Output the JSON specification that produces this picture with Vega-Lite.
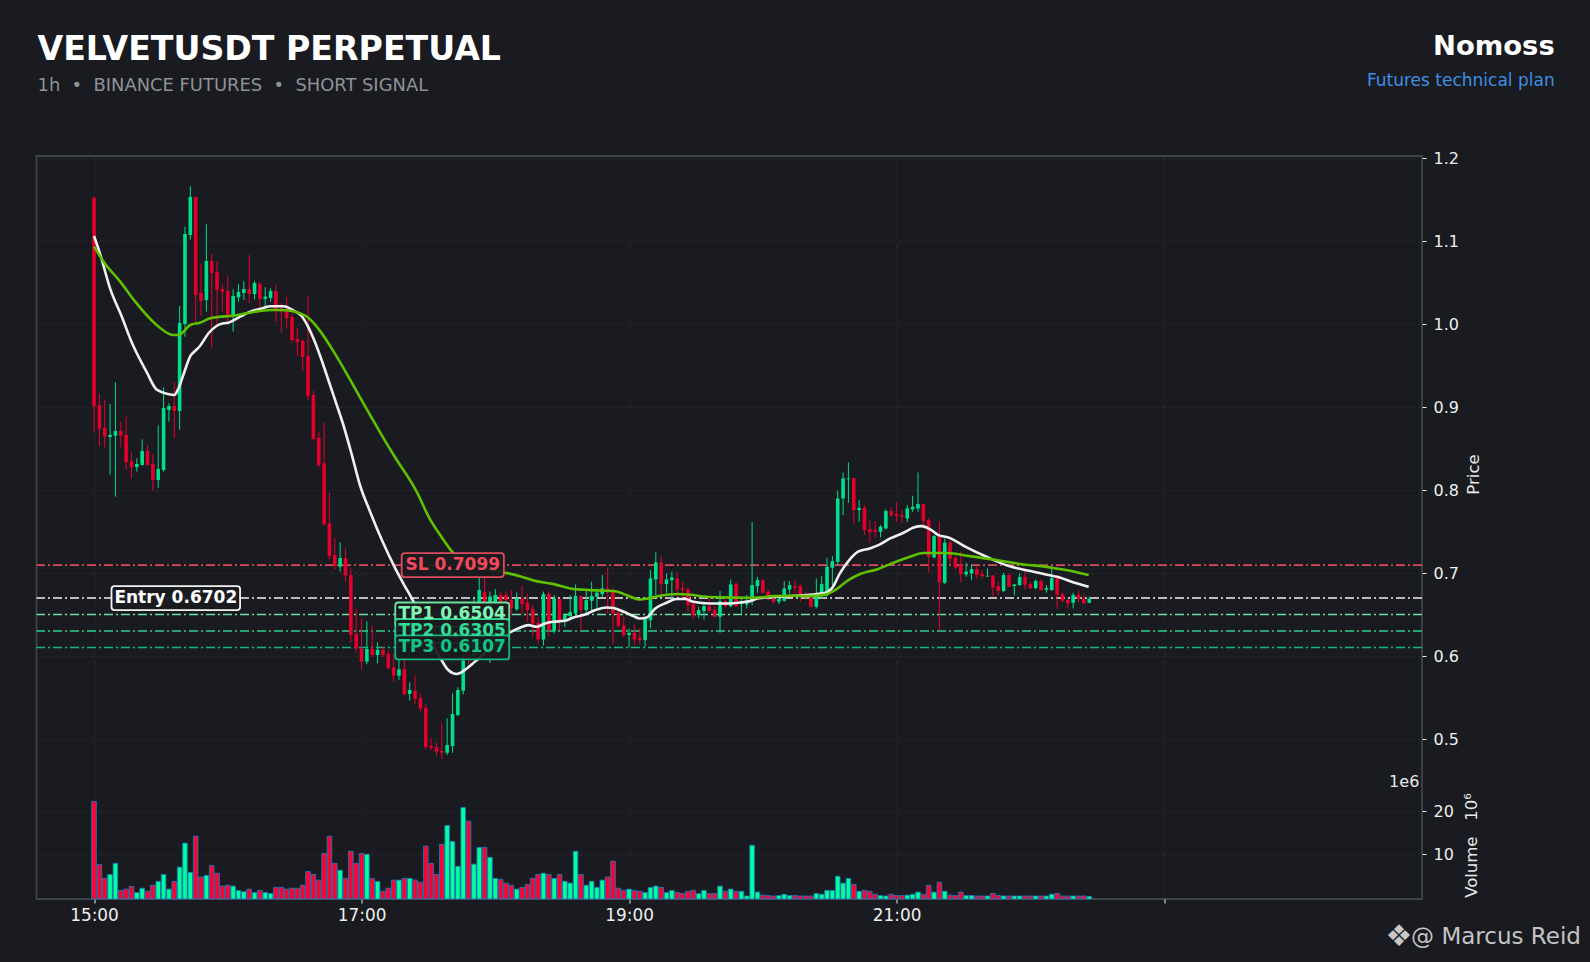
{
  "$schema": "https://vega.github.io/schema/vega-lite/v6.json",
  "width": 1385.5,
  "height": 743,
  "autosize": "none",
  "padding": {"left": 36.5, "top": 156, "right": 168, "bottom": 63},
  "background": "#191b20",
  "config": {
    "view": {"stroke": "#3f434a", "strokeWidth": 1.8},
    "font": "DejaVu Sans"
  },
  "datasets": {
    "candles": [
      {"i":0,"o":1.1522,"h":1.1546,"l":0.8695,"c":0.9016,"v":22.3},
      {"i":1,"o":0.9028,"h":0.9169,"l":0.8534,"c":0.8743,"v":7.6},
      {"i":2,"o":0.8751,"h":0.9096,"l":0.8518,"c":0.8647,"v":4.4},
      {"i":3,"o":0.8643,"h":0.904,"l":0.8189,"c":0.8667,"v":5.3},
      {"i":4,"o":0.8659,"h":0.9301,"l":0.7924,"c":0.8715,"v":7.9},
      {"i":5,"o":0.8715,"h":0.8823,"l":0.8518,"c":0.8659,"v":1.6},
      {"i":6,"o":0.8667,"h":0.8892,"l":0.8249,"c":0.8341,"v":1.9},
      {"i":7,"o":0.8349,"h":0.8458,"l":0.8141,"c":0.8281,"v":2.5},
      {"i":8,"o":0.8281,"h":0.8386,"l":0.8225,"c":0.8317,"v":1.1},
      {"i":9,"o":0.8305,"h":0.8614,"l":0.8297,"c":0.8474,"v":2.1},
      {"i":10,"o":0.8474,"h":0.8546,"l":0.8297,"c":0.8305,"v":1.4},
      {"i":11,"o":0.8317,"h":0.8438,"l":0.7996,"c":0.8124,"v":2.8},
      {"i":12,"o":0.8124,"h":0.8783,"l":0.8032,"c":0.8257,"v":3.7},
      {"i":13,"o":0.8245,"h":0.9241,"l":0.8225,"c":0.8992,"v":5.3},
      {"i":14,"o":0.8968,"h":0.9048,"l":0.8827,"c":0.9016,"v":1.9},
      {"i":15,"o":0.9016,"h":0.9301,"l":0.8627,"c":0.8956,"v":3.7},
      {"i":16,"o":0.8956,"h":1.0221,"l":0.8731,"c":1.0016,"v":7.0},
      {"i":17,"o":1.0004,"h":1.1173,"l":0.9851,"c":1.1088,"v":12.6},
      {"i":18,"o":1.1076,"h":1.1663,"l":1.102,"c":1.1534,"v":5.8},
      {"i":19,"o":1.1534,"h":1.1534,"l":1.002,"c":1.0353,"v":14.2},
      {"i":20,"o":1.0378,"h":1.0735,"l":1.0104,"c":1.0281,"v":4.7},
      {"i":21,"o":1.0293,"h":1.1205,"l":1.0153,"c":1.0763,"v":5.1},
      {"i":22,"o":1.0763,"h":1.0847,"l":0.9707,"c":1.0618,"v":7.4},
      {"i":23,"o":1.0631,"h":1.0759,"l":0.9972,"c":1.0414,"v":5.6},
      {"i":24,"o":1.0426,"h":1.0478,"l":1.0153,"c":1.039,"v":2.6},
      {"i":25,"o":1.0402,"h":1.059,"l":1.0032,"c":1.0092,"v":2.8},
      {"i":26,"o":1.0092,"h":1.0422,"l":0.9912,"c":1.0341,"v":2.6},
      {"i":27,"o":1.0325,"h":1.0486,"l":1.0273,"c":1.039,"v":1.6},
      {"i":28,"o":1.0378,"h":1.0518,"l":1.0293,"c":1.0426,"v":1.3},
      {"i":29,"o":1.0426,"h":1.0835,"l":1.0253,"c":1.0365,"v":1.9},
      {"i":30,"o":1.0365,"h":1.0522,"l":1.0301,"c":1.0498,"v":1.1},
      {"i":31,"o":1.0486,"h":1.051,"l":1.0173,"c":1.0305,"v":1.6},
      {"i":32,"o":1.0305,"h":1.0446,"l":1.0213,"c":1.0333,"v":1.1},
      {"i":33,"o":1.0317,"h":1.0434,"l":1.0273,"c":1.0402,"v":0.9},
      {"i":34,"o":1.0402,"h":1.0482,"l":1.0032,"c":1.0185,"v":2.3},
      {"i":35,"o":1.0193,"h":1.0253,"l":0.99,"c":1.0173,"v":2.3},
      {"i":36,"o":1.0181,"h":1.0329,"l":0.9952,"c":1.0076,"v":1.9},
      {"i":37,"o":1.0088,"h":1.0133,"l":0.9779,"c":0.9811,"v":2.1},
      {"i":38,"o":0.9823,"h":0.9956,"l":0.9618,"c":0.9787,"v":2.1},
      {"i":39,"o":0.9799,"h":0.9819,"l":0.9438,"c":0.9606,"v":2.8},
      {"i":40,"o":0.9618,"h":1.0349,"l":0.9088,"c":0.9137,"v":6.0},
      {"i":41,"o":0.9149,"h":0.9197,"l":0.8598,"c":0.8618,"v":5.3},
      {"i":42,"o":0.8631,"h":0.8711,"l":0.8277,"c":0.8305,"v":4.0},
      {"i":43,"o":0.8325,"h":0.8815,"l":0.757,"c":0.7594,"v":10.2},
      {"i":44,"o":0.7602,"h":0.7972,"l":0.7169,"c":0.7209,"v":14.2},
      {"i":45,"o":0.7221,"h":0.7422,"l":0.7048,"c":0.7092,"v":7.9},
      {"i":46,"o":0.708,"h":0.7373,"l":0.702,"c":0.7185,"v":6.3},
      {"i":47,"o":0.7185,"h":0.7301,"l":0.69,"c":0.6972,"v":4.4},
      {"i":48,"o":0.698,"h":0.706,"l":0.6165,"c":0.6257,"v":10.7},
      {"i":49,"o":0.6269,"h":0.6578,"l":0.6044,"c":0.6096,"v":7.9},
      {"i":50,"o":0.6092,"h":0.6458,"l":0.5843,"c":0.5936,"v":10.2},
      {"i":51,"o":0.5936,"h":0.6422,"l":0.5904,"c":0.6088,"v":10.0},
      {"i":52,"o":0.6088,"h":0.6373,"l":0.5996,"c":0.6016,"v":4.4},
      {"i":53,"o":0.6016,"h":0.6169,"l":0.5916,"c":0.6076,"v":3.7},
      {"i":54,"o":0.6076,"h":0.6116,"l":0.5988,"c":0.6016,"v":1.4},
      {"i":55,"o":0.6028,"h":0.6068,"l":0.5843,"c":0.5859,"v":2.1},
      {"i":56,"o":0.5867,"h":0.6036,"l":0.5695,"c":0.5767,"v":4.0},
      {"i":57,"o":0.5767,"h":0.5964,"l":0.5715,"c":0.5843,"v":4.0},
      {"i":58,"o":0.5847,"h":0.5956,"l":0.553,"c":0.5546,"v":4.4},
      {"i":59,"o":0.5546,"h":0.5687,"l":0.5466,"c":0.5594,"v":4.4},
      {"i":60,"o":0.5582,"h":0.5771,"l":0.5426,"c":0.549,"v":4.0},
      {"i":61,"o":0.5498,"h":0.5554,"l":0.5321,"c":0.537,"v":3.5},
      {"i":62,"o":0.5378,"h":0.5426,"l":0.488,"c":0.4908,"v":11.9},
      {"i":63,"o":0.492,"h":0.5012,"l":0.4872,"c":0.4896,"v":7.9},
      {"i":64,"o":0.4908,"h":0.4964,"l":0.4799,"c":0.4851,"v":5.3},
      {"i":65,"o":0.4859,"h":0.5193,"l":0.4759,"c":0.4839,"v":12.3},
      {"i":66,"o":0.4839,"h":0.5253,"l":0.4811,"c":0.4932,"v":16.7},
      {"i":67,"o":0.492,"h":0.5554,"l":0.4839,"c":0.5305,"v":13.0},
      {"i":68,"o":0.5293,"h":0.5627,"l":0.5281,"c":0.5594,"v":7.2},
      {"i":69,"o":0.5586,"h":0.6,"l":0.5538,"c":0.595,"v":20.9},
      {"i":70,"o":0.62,"h":0.64,"l":0.59,"c":0.6,"v":17.7},
      {"i":71,"o":0.6,"h":0.67,"l":0.595,"c":0.655,"v":7.7},
      {"i":72,"o":0.6659,"h":0.696,"l":0.655,"c":0.68,"v":11.6},
      {"i":73,"o":0.6779,"h":0.696,"l":0.655,"c":0.6647,"v":11.6},
      {"i":74,"o":0.655,"h":0.678,"l":0.592,"c":0.672,"v":9.3},
      {"i":75,"o":0.6639,"h":0.681,"l":0.66,"c":0.6739,"v":4.4},
      {"i":76,"o":0.6739,"h":0.678,"l":0.64,"c":0.655,"v":4.2},
      {"i":77,"o":0.6739,"h":0.678,"l":0.655,"c":0.6679,"v":3.3},
      {"i":78,"o":0.6679,"h":0.68,"l":0.65,"c":0.6578,"v":2.8},
      {"i":79,"o":0.6566,"h":0.677,"l":0.655,"c":0.6699,"v":1.9},
      {"i":80,"o":0.6691,"h":0.6855,"l":0.65,"c":0.663,"v":2.3},
      {"i":81,"o":0.6647,"h":0.6755,"l":0.6416,"c":0.6558,"v":3.0},
      {"i":82,"o":0.6569,"h":0.6617,"l":0.6236,"c":0.6396,"v":4.4},
      {"i":83,"o":0.6404,"h":0.6468,"l":0.6155,"c":0.6203,"v":5.3},
      {"i":84,"o":0.6203,"h":0.678,"l":0.6127,"c":0.675,"v":5.6},
      {"i":85,"o":0.675,"h":0.678,"l":0.6236,"c":0.6316,"v":5.3},
      {"i":86,"o":0.6304,"h":0.6738,"l":0.6276,"c":0.6697,"v":4.4},
      {"i":87,"o":0.669,"h":0.6697,"l":0.6316,"c":0.6416,"v":5.3},
      {"i":88,"o":0.6416,"h":0.6517,"l":0.6356,"c":0.6497,"v":3.7},
      {"i":89,"o":0.6485,"h":0.6738,"l":0.6436,"c":0.6533,"v":3.3},
      {"i":90,"o":0.6517,"h":0.6866,"l":0.6485,"c":0.6726,"v":10.7},
      {"i":91,"o":0.6726,"h":0.6738,"l":0.6308,"c":0.6557,"v":5.3},
      {"i":92,"o":0.6557,"h":0.6798,"l":0.6497,"c":0.6677,"v":2.8},
      {"i":93,"o":0.6669,"h":0.6898,"l":0.6557,"c":0.6726,"v":3.7},
      {"i":94,"o":0.6718,"h":0.6818,"l":0.6565,"c":0.6766,"v":2.3},
      {"i":95,"o":0.675,"h":0.6979,"l":0.6718,"c":0.6818,"v":4.0},
      {"i":96,"o":0.6818,"h":0.7067,"l":0.6517,"c":0.679,"v":4.7},
      {"i":97,"o":0.679,"h":0.6818,"l":0.6147,"c":0.6517,"v":8.4},
      {"i":98,"o":0.6525,"h":0.6557,"l":0.6356,"c":0.6364,"v":2.1},
      {"i":99,"o":0.6372,"h":0.6476,"l":0.6236,"c":0.6256,"v":1.6},
      {"i":100,"o":0.6256,"h":0.6336,"l":0.6107,"c":0.6284,"v":1.9},
      {"i":101,"o":0.6284,"h":0.6384,"l":0.6135,"c":0.6203,"v":1.6},
      {"i":102,"o":0.6223,"h":0.6336,"l":0.6147,"c":0.6195,"v":1.4},
      {"i":103,"o":0.6195,"h":0.6468,"l":0.6115,"c":0.6456,"v":1.1},
      {"i":104,"o":0.6436,"h":0.7039,"l":0.6336,"c":0.6938,"v":2.3},
      {"i":105,"o":0.6926,"h":0.7252,"l":0.6738,"c":0.7131,"v":2.6},
      {"i":106,"o":0.7131,"h":0.7211,"l":0.6738,"c":0.687,"v":2.3},
      {"i":107,"o":0.687,"h":0.6999,"l":0.6766,"c":0.6926,"v":1.1},
      {"i":108,"o":0.6918,"h":0.7019,"l":0.6697,"c":0.695,"v":1.6},
      {"i":109,"o":0.6938,"h":0.7007,"l":0.6717,"c":0.6806,"v":1.1},
      {"i":110,"o":0.6818,"h":0.6898,"l":0.6677,"c":0.6798,"v":0.9},
      {"i":111,"o":0.6806,"h":0.683,"l":0.6537,"c":0.6617,"v":1.4},
      {"i":112,"o":0.6629,"h":0.6645,"l":0.6457,"c":0.6497,"v":1.6},
      {"i":113,"o":0.6497,"h":0.6597,"l":0.6457,"c":0.6557,"v":0.85},
      {"i":114,"o":0.6545,"h":0.6657,"l":0.6444,"c":0.6605,"v":1.6},
      {"i":115,"o":0.6605,"h":0.6697,"l":0.6537,"c":0.6545,"v":0.85},
      {"i":116,"o":0.6557,"h":0.6605,"l":0.6469,"c":0.6477,"v":0.85},
      {"i":117,"o":0.6477,"h":0.6786,"l":0.6284,"c":0.6665,"v":2.6},
      {"i":118,"o":0.6665,"h":0.6685,"l":0.659,"c":0.6605,"v":1.4},
      {"i":119,"o":0.6605,"h":0.6926,"l":0.659,"c":0.6866,"v":1.9},
      {"i":120,"o":0.687,"h":0.6898,"l":0.659,"c":0.6605,"v":1.4},
      {"i":121,"o":0.6629,"h":0.6697,"l":0.6509,"c":0.6665,"v":1.4},
      {"i":122,"o":0.6625,"h":0.6738,"l":0.6577,"c":0.6645,"v":0.3},
      {"i":123,"o":0.6669,"h":0.7618,"l":0.6617,"c":0.6858,"v":12.1},
      {"i":124,"o":0.6846,"h":0.6958,"l":0.6766,"c":0.6918,"v":1.2},
      {"i":125,"o":0.6918,"h":0.6926,"l":0.6758,"c":0.6766,"v":0.5},
      {"i":126,"o":0.6778,"h":0.6806,"l":0.6677,"c":0.6726,"v":0.4},
      {"i":127,"o":0.6702,"h":0.6726,"l":0.6637,"c":0.6658,"v":0.3},
      {"i":128,"o":0.6658,"h":0.6718,"l":0.6629,"c":0.669,"v":0.4},
      {"i":129,"o":0.667,"h":0.6906,"l":0.6657,"c":0.6818,"v":0.7},
      {"i":130,"o":0.6806,"h":0.6906,"l":0.6758,"c":0.6858,"v":0.4},
      {"i":131,"o":0.6846,"h":0.692,"l":0.6758,"c":0.6826,"v":0.4},
      {"i":132,"o":0.6846,"h":0.6878,"l":0.6657,"c":0.675,"v":0.3},
      {"i":133,"o":0.675,"h":0.6778,"l":0.6697,"c":0.6734,"v":0.3},
      {"i":134,"o":0.6705,"h":0.6738,"l":0.6589,"c":0.6597,"v":0.3},
      {"i":135,"o":0.6597,"h":0.6938,"l":0.6577,"c":0.675,"v":0.9},
      {"i":136,"o":0.6738,"h":0.6966,"l":0.669,"c":0.687,"v":0.7},
      {"i":137,"o":0.6738,"h":0.7187,"l":0.6717,"c":0.7079,"v":1.6},
      {"i":138,"o":0.7067,"h":0.7207,"l":0.6858,"c":0.7147,"v":1.6},
      {"i":139,"o":0.7139,"h":0.7995,"l":0.7099,"c":0.7902,"v":4.9},
      {"i":140,"o":0.7902,"h":0.8215,"l":0.7701,"c":0.8143,"v":3.3},
      {"i":141,"o":0.8135,"h":0.8336,"l":0.785,"c":0.8143,"v":4.4},
      {"i":142,"o":0.8147,"h":0.8147,"l":0.7593,"c":0.7762,"v":3.0},
      {"i":143,"o":0.7762,"h":0.7882,"l":0.7621,"c":0.7786,"v":1.4},
      {"i":144,"o":0.7786,"h":0.7822,"l":0.746,"c":0.7521,"v":1.6},
      {"i":145,"o":0.7533,"h":0.7641,"l":0.7368,"c":0.7497,"v":1.4},
      {"i":146,"o":0.7521,"h":0.7629,"l":0.7432,"c":0.7497,"v":0.7},
      {"i":147,"o":0.7501,"h":0.7581,"l":0.7432,"c":0.7561,"v":0.4},
      {"i":148,"o":0.7541,"h":0.777,"l":0.7529,"c":0.775,"v":0.3},
      {"i":149,"o":0.775,"h":0.7794,"l":0.7681,"c":0.7701,"v":0.7},
      {"i":150,"o":0.7713,"h":0.7854,"l":0.7621,"c":0.7689,"v":0.4},
      {"i":151,"o":0.7701,"h":0.7762,"l":0.7609,"c":0.7681,"v":0.4},
      {"i":152,"o":0.7661,"h":0.7822,"l":0.7621,"c":0.7782,"v":0.5},
      {"i":153,"o":0.777,"h":0.7934,"l":0.7742,"c":0.7802,"v":0.7},
      {"i":154,"o":0.7782,"h":0.8215,"l":0.7742,"c":0.7834,"v":1.2},
      {"i":155,"o":0.7834,"h":0.7834,"l":0.7581,"c":0.7629,"v":0.7},
      {"i":156,"o":0.7641,"h":0.7661,"l":0.7007,"c":0.7199,"v":2.8},
      {"i":157,"o":0.7191,"h":0.746,"l":0.7179,"c":0.7448,"v":1.2},
      {"i":158,"o":0.7448,"h":0.7629,"l":0.6305,"c":0.6894,"v":3.5},
      {"i":159,"o":0.6886,"h":0.742,"l":0.687,"c":0.7368,"v":1.4},
      {"i":160,"o":0.7368,"h":0.7392,"l":0.7099,"c":0.7171,"v":0.5},
      {"i":161,"o":0.7187,"h":0.7207,"l":0.7047,"c":0.7071,"v":0.4},
      {"i":162,"o":0.7099,"h":0.726,"l":0.6894,"c":0.6991,"v":1.2},
      {"i":163,"o":0.6987,"h":0.7127,"l":0.6958,"c":0.7019,"v":0.4},
      {"i":164,"o":0.6999,"h":0.7111,"l":0.6918,"c":0.7051,"v":0.4},
      {"i":165,"o":0.7051,"h":0.7087,"l":0.6938,"c":0.6979,"v":0.3},
      {"i":166,"o":0.6991,"h":0.7039,"l":0.6938,"c":0.6966,"v":0.3},
      {"i":167,"o":0.6962,"h":0.7059,"l":0.6958,"c":0.697,"v":0.3},
      {"i":168,"o":0.6974,"h":0.6974,"l":0.6717,"c":0.683,"v":0.9},
      {"i":169,"o":0.6846,"h":0.6898,"l":0.6729,"c":0.679,"v":0.4},
      {"i":170,"o":0.6786,"h":0.7007,"l":0.6774,"c":0.6979,"v":0.3},
      {"i":171,"o":0.6979,"h":0.6999,"l":0.683,"c":0.6838,"v":0.3},
      {"i":172,"o":0.6846,"h":0.6866,"l":0.6733,"c":0.6866,"v":0.3},
      {"i":173,"o":0.6858,"h":0.6999,"l":0.6846,"c":0.6954,"v":0.3},
      {"i":174,"o":0.6954,"h":0.7039,"l":0.6806,"c":0.6862,"v":0.3},
      {"i":175,"o":0.687,"h":0.6898,"l":0.6806,"c":0.6822,"v":0.3},
      {"i":176,"o":0.6822,"h":0.6926,"l":0.6806,"c":0.6906,"v":0.3},
      {"i":177,"o":0.6906,"h":0.6926,"l":0.679,"c":0.6798,"v":0.3},
      {"i":178,"o":0.6802,"h":0.6858,"l":0.6766,"c":0.6822,"v":0.3},
      {"i":179,"o":0.6798,"h":0.7059,"l":0.679,"c":0.6942,"v":0.7},
      {"i":180,"o":0.6958,"h":0.6966,"l":0.657,"c":0.6746,"v":0.9},
      {"i":181,"o":0.675,"h":0.6766,"l":0.6653,"c":0.667,"v":0.3},
      {"i":182,"o":0.6678,"h":0.6694,"l":0.6577,"c":0.6637,"v":0.3},
      {"i":183,"o":0.6645,"h":0.6766,"l":0.6577,"c":0.6738,"v":0.3},
      {"i":184,"o":0.6738,"h":0.6798,"l":0.6645,"c":0.669,"v":0.3},
      {"i":185,"o":0.669,"h":0.675,"l":0.6629,"c":0.6637,"v":0.3},
      {"i":186,"o":0.6645,"h":0.672,"l":0.664,"c":0.669,"v":0.2}
    ],
    "ma_fast": [
      {"i":0,"p":1.1064},{"i":1.1,"p":1.0855},{"i":3,"p":1.0434},{"i":5.2,"p":1.0092},{"i":7,"p":0.9791},{"i":8,"p":0.9651},{"i":9.8,"p":0.943},{"i":11.8,"p":0.9209},{"i":15,"p":0.9149},{"i":15.8,"p":0.9229},{"i":16.8,"p":0.941},{"i":18,"p":0.9618},{"i":18.9,"p":0.9679},{"i":19.8,"p":0.9739},{"i":21.4,"p":0.9892},{"i":22.9,"p":0.998},{"i":24.2,"p":1.0012},{"i":25.1,"p":1.002},{"i":27.3,"p":1.0092},{"i":29.2,"p":1.0153},{"i":31,"p":1.0185},{"i":32.9,"p":1.0217},{"i":35.4,"p":1.0217},{"i":37.3,"p":1.0165},{"i":38.8,"p":1.01},{"i":40,"p":0.9972},{"i":41,"p":0.9831},{"i":42.2,"p":0.963},{"i":43.8,"p":0.9329},{"i":45.05,"p":0.9088},{"i":46.6,"p":0.8787},{"i":48.2,"p":0.8425},{"i":49.7,"p":0.8064},{"i":51.6,"p":0.7742},{"i":53.8,"p":0.7401},{"i":56.3,"p":0.706},{"i":57.8,"p":0.688},{"i":59.7,"p":0.6659},{"i":62,"p":0.63},{"i":65,"p":0.5948},{"i":66.2,"p":0.5835},{"i":67.8,"p":0.5787},{"i":69.7,"p":0.5855},{"i":71.2,"p":0.5936},{"i":75,"p":0.615},{"i":78,"p":0.6297},{"i":79.6,"p":0.6345},{"i":81.2,"p":0.6376},{"i":82.7,"p":0.6356},{"i":84.3,"p":0.6396},{"i":85.9,"p":0.6416},{"i":88,"p":0.6428},{"i":89.6,"p":0.6468},{"i":91.5,"p":0.6497},{"i":93.7,"p":0.6557},{"i":95.8,"p":0.6589},{"i":97.1,"p":0.6581},{"i":99,"p":0.6537},{"i":100.8,"p":0.6484},{"i":102,"p":0.6456},{"i":103.3,"p":0.6468},{"i":104.9,"p":0.6577},{"i":107,"p":0.6645},{"i":108.9,"p":0.669},{"i":110.5,"p":0.669},{"i":112,"p":0.6657},{"i":115.1,"p":0.6637},{"i":118.3,"p":0.6637},{"i":120.8,"p":0.6649},{"i":122.6,"p":0.6665},{"i":124.2,"p":0.6701},{"i":130.1,"p":0.6725},{"i":136.3,"p":0.6758},{"i":137.9,"p":0.6818},{"i":139.4,"p":0.6999},{"i":141,"p":0.7147},{"i":142.8,"p":0.726},{"i":145,"p":0.73},{"i":146.6,"p":0.734},{"i":148.8,"p":0.742},{"i":151.3,"p":0.7489},{"i":153.2,"p":0.7553},{"i":154.7,"p":0.7569},{"i":156.3,"p":0.7529},{"i":157.8,"p":0.746},{"i":159.7,"p":0.7432},{"i":163.1,"p":0.7312},{"i":166.8,"p":0.7199},{"i":171,"p":0.7087},{"i":175,"p":0.7027},{"i":178.4,"p":0.6979},{"i":180,"p":0.6958},{"i":183.1,"p":0.689},{"i":185.9,"p":0.6838}
    ],
    "ma_slow": [
      {"i":0,"p":1.0936},{"i":2,"p":1.0735},{"i":4.9,"p":1.0514},{"i":7.7,"p":1.0273},{"i":11.7,"p":0.9992},{"i":14.8,"p":0.9871},{"i":15.8,"p":0.9871},{"i":18,"p":0.9992},{"i":19.8,"p":1.002},{"i":21.7,"p":1.0072},{"i":23.6,"p":1.0092},{"i":25.4,"p":1.01},{"i":28.5,"p":1.0133},{"i":31,"p":1.0161},{"i":33.5,"p":1.0173},{"i":36,"p":1.0169},{"i":38.5,"p":1.0133},{"i":39.8,"p":1.0092},{"i":41,"p":1.002},{"i":42.2,"p":0.9924},{"i":45,"p":0.965},{"i":47.9,"p":0.9329},{"i":51.6,"p":0.8907},{"i":56,"p":0.8425},{"i":60.3,"p":0.7983},{"i":62.7,"p":0.7663},{"i":64.7,"p":0.7462},{"i":67.2,"p":0.7241},{"i":72,"p":0.707},{"i":76.8,"p":0.7008},{"i":79.6,"p":0.6966},{"i":82.7,"p":0.6906},{"i":85.9,"p":0.687},{"i":89,"p":0.6818},{"i":92.7,"p":0.6798},{"i":95.2,"p":0.679},{"i":97.1,"p":0.6786},{"i":99.6,"p":0.6737},{"i":102,"p":0.6685},{"i":103.6,"p":0.6697},{"i":105.8,"p":0.673},{"i":108.9,"p":0.675},{"i":111.4,"p":0.6742},{"i":114.5,"p":0.6718},{"i":118.3,"p":0.671},{"i":123.3,"p":0.6705},{"i":127,"p":0.6725},{"i":130.1,"p":0.673},{"i":133.8,"p":0.6725},{"i":136.9,"p":0.6746},{"i":138.5,"p":0.6798},{"i":141,"p":0.6918},{"i":143.2,"p":0.6991},{"i":146.3,"p":0.7047},{"i":149.4,"p":0.7127},{"i":152.5,"p":0.7199},{"i":155,"p":0.7244},{"i":159.4,"p":0.7244},{"i":163.7,"p":0.7207},{"i":168,"p":0.7167},{"i":172.5,"p":0.7119},{"i":178.7,"p":0.7071},{"i":182.4,"p":0.7031},{"i":185.9,"p":0.6979}
    ],
    "levels": [
      {"name":"SL","price":0.7099,"label":"SL 0.7099","color":"#dd4a5e","text":"#f2495f","from":57.5,"to":76.6},
      {"name":"Entry","price":0.6702,"label":"Entry 0.6702","color":"#f2f2f2","text":"#ffffff","from":3.27,"to":27.3},
      {"name":"TP1","price":0.6504,"label":"TP1 0.6504","color":"#6fe0a4","text":"#80f5b5","from":56.3,"to":77.6},
      {"name":"TP2","price":0.6305,"label":"TP2 0.6305","color":"#2fd08e","text":"#30dc98","from":56.3,"to":77.6},
      {"name":"TP3","price":0.6107,"label":"TP3 0.6107","color":"#14b87c","text":"#10c585","from":56.3,"to":77.6}
    ],
    "notes": [
      {"text":"VELVETUSDT PERPETUAL","x":-10.56,"y":1.3308,"kind":"headline"},
      {"text":"1h\u00a0\u00a0•\u00a0\u00a0BINANCE FUTURES\u00a0\u00a0•\u00a0\u00a0SHORT SIGNAL","x":-10.56,"y":1.2869,"kind":"subhead"},
      {"text":"Nomoss","x":273,"y":1.3346,"kind":"brand"},
      {"text":"Futures technical plan","x":273,"y":1.2931,"kind":"tag"},
      {"text":"1e6","x":247.7,"y":0.4489,"kind":"offset"},
      {"text":"❖","x":246.4,"y":0.2622,"kind":"icon"},
      {"text":"@ Marcus Reid","x":277.9,"y":0.2622,"kind":"mark"}
    ]
  },
  "layer": [
    {
      "layer": [
        {
          "data": {"name": "levels"},
          "mark": {"type": "rule", "strokeWidth": 1.6, "strokeDash": [9, 3, 2, 3]},
          "encoding": {
            "y": {
              "field": "price",
              "type": "quantitative",
              "scale": {"domain": [0.3076, 1.2028], "nice": false, "zero": false, "padding": 0},
              "axis": {
                "orient": "right",
                "values": [0.5, 0.6, 0.7, 0.8, 0.9, 1.0, 1.1, 1.2],
                "format": ".1f",
                "title": "Price",
                "titleColor": "#e8e8e8",
                "titleFontSize": 16.5,
                "titleFontWeight": "normal",
                "titleAngle": 270,
                "titleX": 59,
                "titleY": 318,
                "titleFont": "DejaVu Sans",
                "labelFont": "DejaVu Sans",
                "labelFontSize": 16,
                "labelColor": "#eeeeee",
                "labelPadding": 7,
                "tickColor": "#eeeeee",
                "tickSize": 4,
                "domain": false,
                "grid": true,
                "gridColor": "#25282d",
                "gridDash": [4, 4]
              }
            },
            "color": {"field": "color", "type": "nominal", "scale": null}
          }
        },
        {
          "data": {"name": "candles"},
          "mark": {"type": "rule", "strokeWidth": 1},
          "encoding": {
            "x": {
              "field": "i",
              "type": "quantitative",
              "scale": {"domain": [-10.75, 248.2], "nice": false, "zero": false, "padding": 0},
              "axis": {
                "values": [0, 50, 100, 150, 200],
                "labelExpr": "datum.value == 0 ? '15:00' : datum.value == 50 ? '17:00' : datum.value == 100 ? '19:00' : datum.value == 150 ? '21:00' : ''",
                "title": null,
                "labelFont": "DejaVu Sans",
                "labelFontSize": 16.9,
                "labelColor": "#eeeeee",
                "labelPadding": 4,
                "tickColor": "#eeeeee",
                "tickSize": 4,
                "domain": false,
                "grid": true,
                "gridColor": "#25282d",
                "gridDash": [4, 4]
              }
            },
            "y": {"field": "l", "type": "quantitative"},
            "y2": {"field": "h"},
            "color": {"condition": {"test": "datum.c >= datum.o", "value": "#00dc8a"}, "value": "#e4002b"}
          }
        },
        {
          "data": {"name": "candles"},
          "mark": {"type": "bar", "width": 3.6},
          "encoding": {
            "x": {"field": "i", "type": "quantitative"},
            "y": {"field": "o", "type": "quantitative"},
            "y2": {"field": "c"},
            "color": {"condition": {"test": "datum.c >= datum.o", "value": "#00e08c"}, "value": "#e4002b"}
          }
        },
        {
          "data": {"name": "ma_fast"},
          "mark": {"type": "line", "color": "#f0f0f0", "strokeWidth": 2.6, "interpolate": "monotone"},
          "encoding": {
            "x": {"field": "i", "type": "quantitative"},
            "y": {"field": "p", "type": "quantitative"}
          }
        },
        {
          "data": {"name": "ma_slow"},
          "mark": {"type": "line", "color": "#5fc000", "strokeWidth": 2.6, "interpolate": "monotone"},
          "encoding": {
            "x": {"field": "i", "type": "quantitative"},
            "y": {"field": "p", "type": "quantitative"}
          }
        },
        {
          "data": {"name": "levels"},
          "mark": {"type": "rect", "height": 24, "cornerRadius": 3, "fill": "#191b20", "fillOpacity": 0.92, "strokeWidth": 1.8},
          "encoding": {
            "x": {"field": "from", "type": "quantitative"},
            "x2": {"field": "to"},
            "y": {"field": "price", "type": "quantitative"},
            "stroke": {"field": "color", "type": "nominal", "scale": null}
          }
        },
        {
          "data": {"name": "levels"},
          "transform": [{"calculate": "(datum.from + datum.to) / 2", "as": "mid"}],
          "mark": {"type": "text", "font": "DejaVu Sans", "fontWeight": "bold", "fontSize": 17, "align": "center", "baseline": "middle"},
          "encoding": {
            "x": {"field": "mid", "type": "quantitative"},
            "y": {"field": "price", "type": "quantitative"},
            "text": {"field": "label"},
            "color": {"field": "text", "type": "nominal", "scale": null}
          }
        },
        {
          "data": {"name": "notes"},
          "transform": [{"filter": "datum.kind == 'headline'"}],
          "mark": {"type": "text", "font": "DejaVu Sans", "fontWeight": "bold", "fontSize": 33.2, "align": "left", "baseline": "middle", "color": "#ffffff"},
          "encoding": {
            "x": {"field": "x", "type": "quantitative"},
            "y": {"field": "y", "type": "quantitative"},
            "text": {"field": "text"}
          }
        },
        {
          "data": {"name": "notes"},
          "transform": [{"filter": "datum.kind == 'subhead'"}],
          "mark": {"type": "text", "font": "DejaVu Sans", "fontSize": 17.9, "align": "left", "baseline": "middle", "color": "#8f9297"},
          "encoding": {
            "x": {"field": "x", "type": "quantitative"},
            "y": {"field": "y", "type": "quantitative"},
            "text": {"field": "text"}
          }
        },
        {
          "data": {"name": "notes"},
          "transform": [{"filter": "datum.kind == 'brand'"}],
          "mark": {"type": "text", "font": "DejaVu Sans", "fontWeight": "bold", "fontSize": 27.4, "align": "right", "baseline": "middle", "color": "#ffffff"},
          "encoding": {
            "x": {"field": "x", "type": "quantitative"},
            "y": {"field": "y", "type": "quantitative"},
            "text": {"field": "text"}
          }
        },
        {
          "data": {"name": "notes"},
          "transform": [{"filter": "datum.kind == 'tag'"}],
          "mark": {"type": "text", "font": "DejaVu Sans", "fontSize": 17, "align": "right", "baseline": "middle", "color": "#3f8fe4"},
          "encoding": {
            "x": {"field": "x", "type": "quantitative"},
            "y": {"field": "y", "type": "quantitative"},
            "text": {"field": "text"}
          }
        },
        {
          "data": {"name": "notes"},
          "transform": [{"filter": "datum.kind == 'offset'"}],
          "mark": {"type": "text", "font": "DejaVu Sans", "fontSize": 16, "align": "right", "baseline": "middle", "color": "#e8e8e8"},
          "encoding": {
            "x": {"field": "x", "type": "quantitative"},
            "y": {"field": "y", "type": "quantitative"},
            "text": {"field": "text"}
          }
        },
        {
          "data": {"name": "notes"},
          "transform": [{"filter": "datum.kind == 'icon'"}],
          "mark": {"type": "text", "font": "DejaVu Sans", "fontSize": 30, "align": "right", "baseline": "middle", "color": "#c8c8c8"},
          "encoding": {
            "x": {"field": "x", "type": "quantitative"},
            "y": {"field": "y", "type": "quantitative"},
            "text": {"field": "text"}
          }
        },
        {
          "data": {"name": "notes"},
          "transform": [{"filter": "datum.kind == 'mark'"}],
          "mark": {"type": "text", "font": "DejaVu Sans", "fontSize": 23, "align": "right", "baseline": "middle", "color": "#c4c4c4"},
          "encoding": {
            "x": {"field": "x", "type": "quantitative"},
            "y": {"field": "y", "type": "quantitative"},
            "text": {"field": "text"}
          }
        }
      ]
    },
    {
      "data": {"name": "candles"},
      "mark": {"type": "bar", "width": 4.6, "stroke": "#1f77b4", "strokeWidth": 0.9},
      "encoding": {
        "x": {"field": "i", "type": "quantitative"},
        "y": {
          "field": "v",
          "type": "quantitative",
          "scale": {"domain": [-0.4, 172.4], "nice": false, "zero": false, "padding": 0},
          "axis": {
            "orient": "right",
            "values": [10, 20],
            "title": "Volume\u00a0\u00a0\u00a010⁶",
            "titleColor": "#e8e8e8",
            "titleFontSize": 16.5,
            "titleFontWeight": "normal",
            "titleAngle": 270,
            "titleX": 57,
            "titleY": 689,
            "titleFont": "DejaVu Sans",
            "labelFont": "DejaVu Sans",
            "labelFontSize": 16,
            "labelColor": "#eeeeee",
            "labelPadding": 7,
            "tickColor": "#eeeeee",
            "tickSize": 4,
            "domain": false,
            "grid": true,
            "gridColor": "#25282d",
            "gridDash": [4, 4]
          }
        },
        "y2": {"datum": -0.4},
        "fill": {"condition": {"test": "datum.c >= datum.o", "value": "#00ff9d"}, "value": "#ff0033"}
      }
    }
  ],
  "resolve": {"scale": {"y": "independent"}, "axis": {"y": "independent"}}
}
